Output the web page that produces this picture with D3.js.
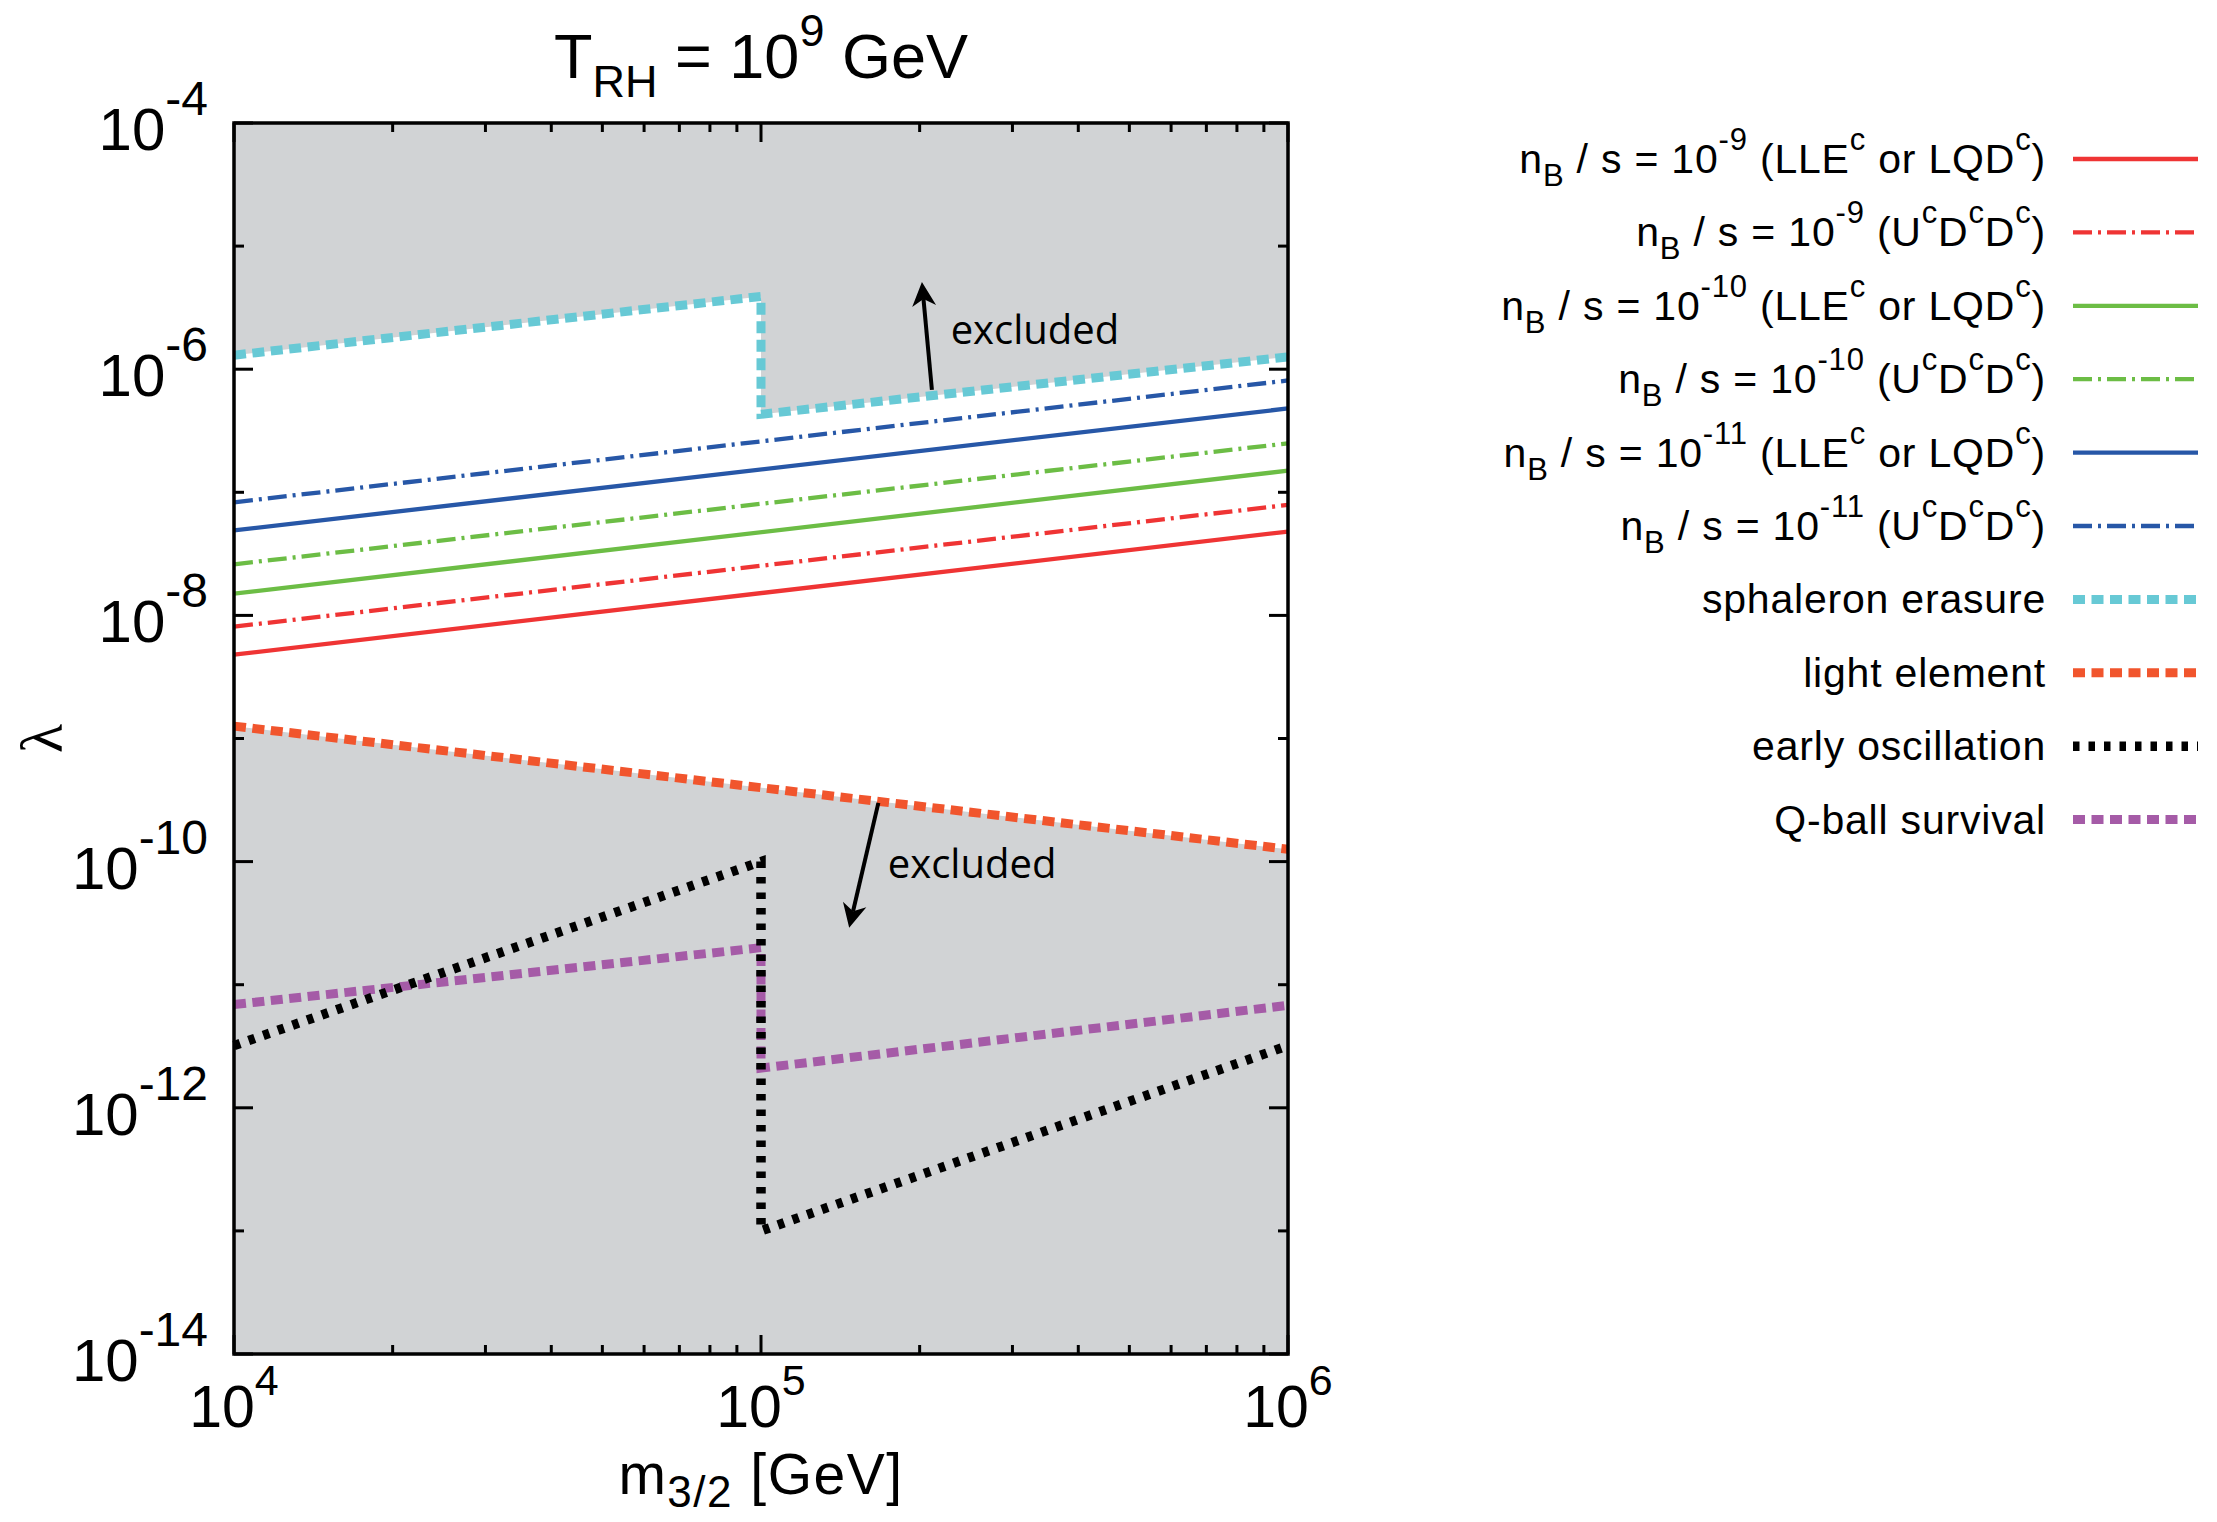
<!DOCTYPE html>
<html>
<head>
<meta charset="utf-8">
<script src="https://cdn.jsdelivr.net/npm/d3@7"></script>
<style>
  body { margin: 0; background: #fff; }
  svg { display: block; }
  text { font-family: "Liberation Sans", Arial, Helvetica, sans-serif; fill: #000; white-space: pre; }
</style>
</head>
<body>
<div id="chart"></div>
<script>
// gravitino mass grid [GeV]
const massEnds = [1e4, 1e6];
const massJump = [1e4, 1e5, 1e5, 1e6];

// lambda values
const nB9LLE = [4.8e-9, 4.8e-8];
const nB9UDD = [8.1e-9, 7.9e-8];
const nB10LLE = [1.5e-8, 1.5e-7];
const nB10UDD = [2.6e-8, 2.5e-7];
const nB11LLE = [4.9e-8, 4.8e-7];
const nB11UDD = [8.3e-8, 8.1e-7];
const sphaleron = [1.3e-6, 3.9e-6, 4.3e-7, 1.26e-6];
const lightElement = [1.26e-9, 1.26e-10];
const earlyOsc = [3.2e-12, 1.0e-10, 1.0e-13, 3.2e-12];
const qballSurvival = [6.9e-12, 2.0e-11, 2.1e-12, 6.8e-12];

// annotation arrows [m, lambda] tail -> tip
const arrowUp = [[2.11e5, 6.8e-7], [2.02e5, 5.1e-6]];
const arrowDown = [[1.67e5, 3.0e-10], [1.47e5, 2.9e-11]];
const excludedLabels = [[2.29e5, 1.6e-6], [1.74e5, 7.4e-11]];

const xDecades = [4, 5, 6];
const yDecades = d3.range(-14, -3);

const legendLabels = [
  [{t: "n"}, {t: "B", k: "sub"}, {t: " / s = 10"}, {t: "-9", k: "sup"}, {t: " (LLE"}, {t: "c", k: "sup"}, {t: " or LQD"}, {t: "c", k: "sup"}, {t: ")"}],
  [{t: "n"}, {t: "B", k: "sub"}, {t: " / s = 10"}, {t: "-9", k: "sup"}, {t: " (U"}, {t: "c", k: "sup"}, {t: "D"}, {t: "c", k: "sup"}, {t: "D"}, {t: "c", k: "sup"}, {t: ")"}],
  [{t: "n"}, {t: "B", k: "sub"}, {t: " / s = 10"}, {t: "-10", k: "sup"}, {t: " (LLE"}, {t: "c", k: "sup"}, {t: " or LQD"}, {t: "c", k: "sup"}, {t: ")"}],
  [{t: "n"}, {t: "B", k: "sub"}, {t: " / s = 10"}, {t: "-10", k: "sup"}, {t: " (U"}, {t: "c", k: "sup"}, {t: "D"}, {t: "c", k: "sup"}, {t: "D"}, {t: "c", k: "sup"}, {t: ")"}],
  [{t: "n"}, {t: "B", k: "sub"}, {t: " / s = 10"}, {t: "-11", k: "sup"}, {t: " (LLE"}, {t: "c", k: "sup"}, {t: " or LQD"}, {t: "c", k: "sup"}, {t: ")"}],
  [{t: "n"}, {t: "B", k: "sub"}, {t: " / s = 10"}, {t: "-11", k: "sup"}, {t: " (U"}, {t: "c", k: "sup"}, {t: "D"}, {t: "c", k: "sup"}, {t: "D"}, {t: "c", k: "sup"}, {t: ")"}],
  [{t: "sphaleron erasure"}],
  [{t: "light element"}],
  [{t: "early oscillation"}],
  [{t: "Q-ball survival"}]
];

const dashDot = "19,6,3,6";
const series = [
  {m: massEnds, v: nB9LLE, color: "#ef3434", w: 4.3, dash: null},
  {m: massEnds, v: nB9UDD, color: "#ef3434", w: 4.3, dash: dashDot},
  {m: massEnds, v: nB10LLE, color: "#6cbd45", w: 4.3, dash: null},
  {m: massEnds, v: nB10UDD, color: "#6cbd45", w: 4.3, dash: dashDot},
  {m: massEnds, v: nB11LLE, color: "#2757a7", w: 4.3, dash: null},
  {m: massEnds, v: nB11UDD, color: "#2757a7", w: 4.3, dash: dashDot},
  {m: massJump, v: sphaleron, color: "#67c9d5", w: 9, dash: "12,6.5"},
  {m: massEnds, v: lightElement, color: "#f1552d", w: 9, dash: "12,6.5"},
  {m: massJump, v: earlyOsc, color: "#000000", w: 9.5, dash: "6.5,9"},
  {m: massJump, v: qballSurvival, color: "#a55ba7", w: 9, dash: "12,6.5"}
];
// drawing order: Q-ball before early oscillation
const drawOrder = [0, 1, 2, 3, 4, 5, 6, 7, 9, 8];

const W = 2217, H = 1522;
const pL = 234, pR = 1288, pT = 123, pB = 1354;

const svg = d3.select("#chart").append("svg")
  .attr("width", W).attr("height", H);

const x = d3.scaleLog().domain([1e4, 1e6]).range([pL, pR]);
const y = d3.scaleLog().domain([1e-14, 1e-4]).range([pB, pT]);

const line = d3.line().x(d => x(d[0])).y(d => y(d[1]));

// excluded background and allowed window
svg.append("rect")
  .attr("x", pL).attr("y", pT)
  .attr("width", pR - pL).attr("height", pB - pT)
  .attr("fill", "#d1d3d5");

const windowPts = massJump.map((m, i) => [m, sphaleron[i]])
  .concat(massEnds.map((m, i) => [m, lightElement[i]]).reverse());
svg.append("path")
  .attr("d", line(windowPts) + "Z")
  .attr("fill", "#fff");

// curves
drawOrder.forEach(i => {
  const s = series[i];
  svg.append("path")
    .attr("d", line(s.m.map((m, j) => [m, s.v[j]])))
    .attr("fill", "none")
    .attr("stroke", s.color)
    .attr("stroke-width", s.w)
    .attr("stroke-dasharray", s.dash);
});

// arrows
const drawArrow = (pts) => {
  const x0 = x(pts[0][0]), y0 = y(pts[0][1]);
  const x1 = x(pts[1][0]), y1 = y(pts[1][1]);
  const len = Math.hypot(x1 - x0, y1 - y0);
  const ux = (x1 - x0) / len, uy = (y1 - y0) / len;
  const px = -uy, py = ux;
  const hl = 24, hw = 12, notch = 17;
  svg.append("line")
    .attr("x1", x0).attr("y1", y0)
    .attr("x2", x1 - ux * notch).attr("y2", y1 - uy * notch)
    .attr("stroke", "#000").attr("stroke-width", 4);
  const head = [
    [x1, y1],
    [x1 - ux * hl + px * hw, y1 - uy * hl + py * hw],
    [x1 - ux * notch, y1 - uy * notch],
    [x1 - ux * hl - px * hw, y1 - uy * hl - py * hw]
  ];
  svg.append("path").attr("d", "M" + head.join("L") + "Z").attr("fill", "#000");
};
drawArrow(arrowUp);
drawArrow(arrowDown);

excludedLabels.forEach(p => {
  svg.append("text")
    .attr("x", x(p[0])).attr("y", y(p[1]))
    .style("font-family", "'Open Sans', sans-serif")
    .style("font-size", "40px")
    .text("excluded");
});

// rich text helper (sub / superscripts)
const richText = (sel, parts, base, small, supDy, subDy) => {
  let cur = 0;
  parts.forEach(p => {
    const target = p.k === "sup" ? supDy : p.k === "sub" ? subDy : 0;
    sel.append("tspan")
      .attr("dy", target - cur)
      .style("font-size", (p.k ? small : base) + "px")
      .text(p.t);
    cur = target;
  });
};

// ticks
const ticks = svg.append("g").attr("stroke", "#000").attr("stroke-width", 3);
x.ticks().forEach(t => {
  const major = Math.abs(Math.log10(t) - Math.round(Math.log10(t))) < 1e-9;
  const len = major ? 19 : 9;
  ticks.append("line").attr("x1", x(t)).attr("x2", x(t)).attr("y1", pB).attr("y2", pB - len);
  ticks.append("line").attr("x1", x(t)).attr("x2", x(t)).attr("y1", pT).attr("y2", pT + len);
});
yDecades.forEach(p => {
  const len = p % 2 === 0 ? 19 : 10;
  const yy = y(Math.pow(10, p));
  ticks.append("line").attr("x1", pL).attr("x2", pL + len).attr("y1", yy).attr("y2", yy);
  ticks.append("line").attr("x1", pR).attr("x2", pR - len).attr("y1", yy).attr("y2", yy);
});

// frame
svg.append("rect")
  .attr("x", pL).attr("y", pT)
  .attr("width", pR - pL).attr("height", pB - pT)
  .attr("fill", "none").attr("stroke", "#000").attr("stroke-width", 3.5);

// tick labels
xDecades.forEach(p => {
  const t = svg.append("text")
    .attr("x", x(Math.pow(10, p))).attr("y", pB + 73)
    .attr("text-anchor", "middle");
  richText(t, [{t: "10"}, {t: String(p), k: "sup"}], 59, 43, -32, 0);
});
yDecades.filter(p => p % 2 === 0).forEach(p => {
  const t = svg.append("text")
    .attr("x", pL - 26).attr("y", y(Math.pow(10, p)) + 27)
    .attr("text-anchor", "end");
  richText(t, [{t: "10"}, {t: String(p), k: "sup"}], 60, 48, -35, 0);
});

// title
const title = svg.append("text")
  .attr("x", (pL + pR) / 2).attr("y", 78)
  .attr("text-anchor", "middle");
richText(title, [{t: "T"}, {t: "RH", k: "sub"}, {t: " = 10"}, {t: "9", k: "sup"}, {t: " GeV"}], 63, 45, -32, 19);

// axis labels
const xl = svg.append("text")
  .attr("x", (pL + pR) / 2).attr("y", 1494)
  .attr("text-anchor", "middle")
  .style("letter-spacing", "1.5px");
richText(xl, [{t: "m"}, {t: "3/2", k: "sub"}, {t: " [GeV]"}], 57, 44, 0, 13);

svg.append("text")
  .attr("transform", `translate(42, ${(pT + pB) / 2}) rotate(-90)`)
  .attr("text-anchor", "middle")
  .attr("dominant-baseline", "central")
  .style("font-family", "'Liberation Serif', 'DejaVu Serif', serif")
  .style("font-size", "60px")
  .text("\u03bb");

// legend
const legend = svg.append("g");
const rowY = i => 159 + i * 73.4;
series.forEach((s, i) => {
  legend.append("line")
    .attr("x1", 2073).attr("x2", 2198)
    .attr("y1", rowY(i)).attr("y2", rowY(i))
    .attr("stroke", s.color)
    .attr("stroke-width", s.w)
    .attr("stroke-dasharray", s.dash);
  const t = legend.append("text")
    .attr("x", 2046).attr("y", rowY(i) + 14)
    .attr("text-anchor", "end")
    .style("letter-spacing", "0.8px");
  richText(t, legendLabels[i], 41, 31, -23, 13);
});
</script>
</body>
</html>
